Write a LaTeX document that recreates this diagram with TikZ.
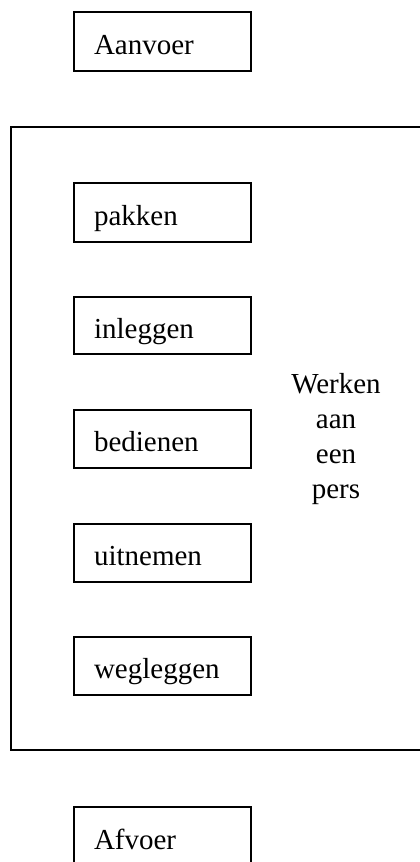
\documentclass[tikz,border=0pt]{standalone}
\usepackage{fontspec}
\setmainfont{Liberation Serif}
\begin{document}
\begin{tikzpicture}[x=1pt,y=-1pt,
  stepbox/.style={draw, line width=2pt, minimum width=177pt, minimum height=59pt,
    inner sep=0pt, text width=137pt, align=left, text height=25pt, text depth=0pt,
    font=\fontsize{29}{35}\selectfont},
  framebox/.style={draw, line width=2pt, inner sep=0pt},
  label/.style={inner sep=0pt, align=center, font=\fontsize{29}{35}\selectfont}]
\useasboundingbox (0,0) rectangle (420,862);
\node[stepbox] (aanvoer) at (162.5,41.5) {Aanvoer};
\node[framebox, minimum width=414pt, minimum height=623pt] (frame) at (218,438.5) {};
\node[stepbox] (pakken) at (162.5,212.5) {pakken};
\node[stepbox, minimum height=57pt] (inleggen) at (162.5,325.5) {inleggen};
\node[stepbox, minimum height=58pt] (bedienen) at (162.5,439) {bedienen};
\node[stepbox, minimum height=58pt] (uitnemen) at (162.5,553) {uitnemen};
\node[stepbox, minimum height=58pt] (wegleggen) at (162.5,666) {wegleggen};
\node[stepbox] (afvoer) at (162.5,836.5) {Afvoer};
\node[label, anchor=north] (werken) at (336,373) {Werken\\aan\\een\\pers};
\end{tikzpicture}
\end{document}
